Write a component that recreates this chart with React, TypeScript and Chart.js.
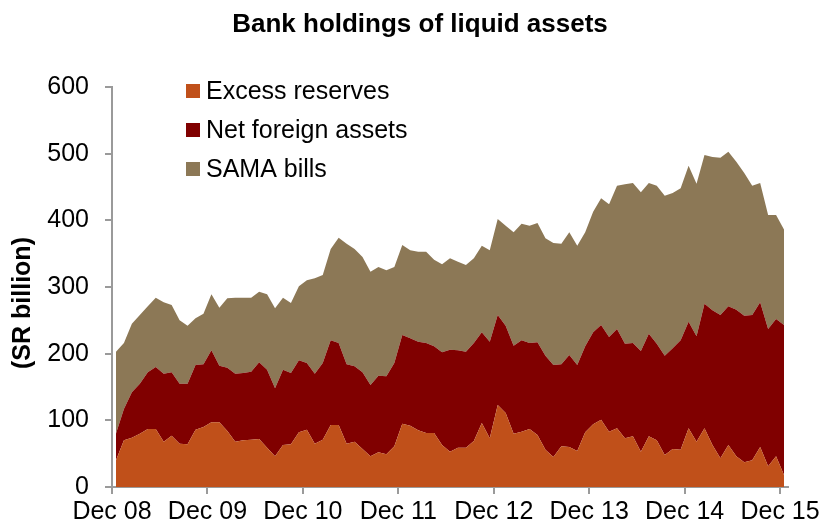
import React, { useEffect, useRef } from "react";
import { Chart, registerables } from "chart.js";

Chart.register(...registerables);

const chartTitle = "Bank holdings of liquid assets";
const yAxisTitle = "(SR billion)";
const yearLabels = ["Dec 08", "Dec 09", "Dec 10", "Dec 11", "Dec 12", "Dec 13", "Dec 14", "Dec 15"];
const yTickValues = [0, 100, 200, 300, 400, 500, 600];
const seriesNames = ["Excess reserves", "Net foreign assets", "SAMA bills"];
const seriesColors = ["#C0501A", "#800000", "#8C7856"];

// Monthly values, Dec 2008 .. Dec 2015 (SR billion)
const excessReserves = [
  40, 70, 74, 80, 87, 87, 68, 77, 65, 64,
  86, 90, 97, 97, 84, 68, 70, 71, 72, 59,
  46, 63, 64, 82, 86, 65, 71, 93, 93, 65,
  68, 57, 46, 52, 49, 61, 95, 92, 85, 81,
  81, 63, 53, 59, 59, 69, 96, 73, 123, 111,
  80, 83, 87, 78, 56, 45, 61, 60, 54, 82,
  94, 101, 83, 88, 73, 76, 53, 76, 70, 48,
  57, 56, 88, 68, 88, 63, 43, 63, 46, 37,
  40, 60, 31, 46, 18,
];
const netForeignAssets = [
  40, 47, 68, 75, 85, 93, 102, 95, 90, 91,
  97, 94, 108, 85, 95, 102, 101, 102, 115, 117,
  102, 113, 107, 108, 100, 105, 115, 127, 123, 119,
  113, 115, 107, 115, 117, 125, 133, 131, 133, 135,
  130, 139, 153, 146, 144, 147, 136, 145, 135, 131,
  132, 137, 129, 139, 141, 138, 123, 138, 129, 129,
  138, 142, 142, 149, 142, 140, 151, 154, 145, 149,
  151, 164, 160, 158, 187, 202, 215, 208, 220, 220,
  218, 217, 206, 206, 225,
];
const samaBills = [
  123, 99, 103, 103, 99, 104, 107, 101, 95, 87,
  70, 76, 84, 87, 104, 114, 113, 111, 106, 113,
  120, 108, 105, 111, 124, 143, 132, 137, 158, 181,
  176, 173, 170, 163, 159, 144, 135, 132, 135, 137,
  130, 132, 137, 133, 130, 127, 130, 137, 144, 150,
  170, 175, 176, 179, 176, 183, 181, 184, 179, 171,
  181, 190, 199, 215, 239, 240, 238, 226, 237, 240,
  233, 228, 234, 229, 223, 230, 236, 232, 222, 214,
  194, 179, 171, 156, 143,
];

const FONT = '"Liberation Sans", Arial, sans-serif';
const AXIS_GREY = "#9A9A9A";

const toPoints = (arr: number[]) => arr.map((v, i) => ({ x: i + 0.5, y: v }));

const overlayPlugin = {
  id: "titleAndLegend",
  afterDraw(chart: any) {
    const ctx = chart.ctx;
    ctx.save();
    ctx.fillStyle = "#000";
    ctx.font = `bold 26px ${FONT}`;
    ctx.textAlign = "center";
    ctx.textBaseline = "middle";
    ctx.fillText(chartTitle, 420, 25);

    // y-axis title
    ctx.save();
    ctx.translate(23, 303);
    ctx.rotate(-Math.PI / 2);
    ctx.font = `bold 25px ${FONT}`;
    ctx.textAlign = "center";
    ctx.textBaseline = "middle";
    ctx.fillText(yAxisTitle, 0, 0);
    ctx.restore();

    chart.data.datasets.forEach((ds: any, i: number) => {
      const y = 91 + i * 39;
      ctx.fillStyle = ds.backgroundColor;
      ctx.fillRect(186, y - 7, 14, 14);
      ctx.fillStyle = "#000";
      ctx.font = `25px ${FONT}`;
      ctx.textAlign = "left";
      ctx.textBaseline = "middle";
      ctx.fillText(ds.label, 206, y + 1);
    });
    ctx.restore();
  },
};

export default function App() {
  const canvasRef = useRef<HTMLCanvasElement | null>(null);

  useEffect(() => {
    if (!canvasRef.current) return;
    const seriesData = [excessReserves, netForeignAssets, samaBills];
    const chart = new Chart(canvasRef.current, {
      type: "line",
      data: {
        datasets: seriesData.map((arr, i) => ({
          label: seriesNames[i],
          data: toPoints(arr),
          backgroundColor: seriesColors[i],
          borderColor: seriesColors[i],
          borderWidth: 0,
          pointRadius: 0,
          tension: 0,
          fill: i === 0 ? "origin" : "-1",
        })),
      },
      options: {
        responsive: false,
        animation: false,
        devicePixelRatio: 1,
        layout: { padding: { top: 87, right: 47, left: 0, bottom: 0 } },
        plugins: {
          legend: { display: false },
          title: { display: false },
          tooltip: { enabled: false },
        },
        scales: {
          x: {
            type: "linear",
            min: 0,
            max: 85,
            afterBuildTicks: (scale: any) => {
              scale.ticks = yearLabels.map((_, i) => ({ value: i * 12 }));
            },
            afterFit: (scale: any) => {
              scale.height = 45;
            },
            ticks: {
              autoSkip: false,
              maxRotation: 0,
              padding: 3,
              color: "#000",
              font: { family: FONT, size: 25 },
              callback: (_v: any, index: number) => yearLabels[index],
            },
            grid: {
              display: true,
              drawOnChartArea: false,
              drawTicks: true,
              tickLength: 7,
              color: AXIS_GREY,
              lineWidth: 2,
            },
            border: { display: true, color: AXIS_GREY, width: 2 },
          },
          y: {
            stacked: true,
            min: 0,
            max: 600,
            afterBuildTicks: (scale: any) => {
              scale.ticks = yTickValues.map((v) => ({ value: v }));
            },
            afterFit: (scale: any) => {
              scale.width = 112;
            },
            ticks: {
              padding: 16,
              color: "#000",
              font: { family: FONT, size: 25 },
            },
            title: { display: false },
            grid: {
              display: true,
              drawOnChartArea: false,
              drawTicks: true,
              tickLength: 7,
              color: AXIS_GREY,
              lineWidth: 2,
            },
            border: { display: true, color: AXIS_GREY, width: 2 },
          },
        },
      },
      plugins: [overlayPlugin],
    } as any);
    return () => chart.destroy();
  }, []);

  return (
    <div style={{ position: "absolute", left: 0, top: 0, width: 835, height: 532, background: "#fff" }}>
      <canvas ref={canvasRef} width={835} height={532} style={{ width: 835, height: 532 }} />
    </div>
  );
}
